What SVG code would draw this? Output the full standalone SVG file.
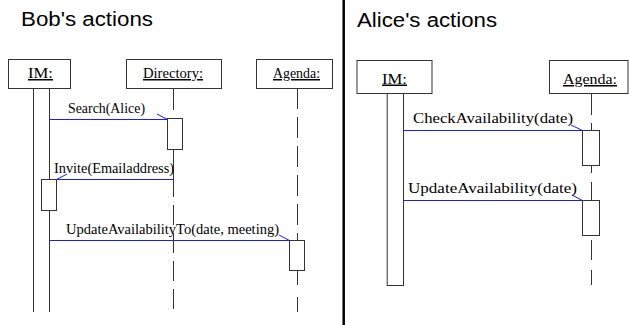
<svg xmlns="http://www.w3.org/2000/svg" width="629" height="325" viewBox="0 0 629 325">
<defs>
<style>
.box{fill:#fff;stroke:#333;stroke-width:1}
.ln{stroke:#333;stroke-width:1;fill:none}
.dash{stroke:#333;stroke-width:1;fill:none;stroke-dasharray:21 8}
.act{fill:#fff;stroke:#333;stroke-width:1}
.msg{stroke:#1a1aff;stroke-width:1;fill:none}
.tick{stroke:#1a1aff;stroke-width:1;fill:none}
.title{font-family:"Liberation Sans",Arial,sans-serif;font-size:20px;fill:#000}
.obj{font-family:"Liberation Serif","Times New Roman","DejaVu Serif",serif;font-size:15px;fill:#000;text-decoration:underline}
.lbl{font-family:"Liberation Serif","Times New Roman","DejaVu Serif",serif;font-size:14px;fill:#000}
</style>
</defs>
<rect x="0" y="0" width="629" height="325" fill="#fff"/>
<line x1="343.7" y1="0" x2="343.7" y2="325" stroke="#000" stroke-width="2.5"/>
<text class="title" x="21" y="26" textLength="132" lengthAdjust="spacingAndGlyphs">Bob's actions</text>
<text class="title" x="357" y="27" textLength="140" lengthAdjust="spacingAndGlyphs">Alice's actions</text>

<g id="bob-im">
<rect class="box" x="8.5" y="59.5" width="62" height="29"/>
<text class="obj" x="28" y="78" textLength="25" lengthAdjust="spacingAndGlyphs">IM:</text>
<line class="ln" x1="33.5" y1="88" x2="33.5" y2="312"/>
<line class="ln" x1="49.5" y1="88" x2="49.5" y2="312"/>
<rect class="act" x="41.5" y="179.5" width="15" height="31"/>
</g>

<g id="bob-directory">
<rect class="box" x="126.5" y="59.5" width="95" height="29"/>
<text class="obj" x="143" y="78" textLength="60" lengthAdjust="spacingAndGlyphs">Directory:</text>
<line class="ln" x1="173.5" y1="88" x2="173.5" y2="110"/>
<rect class="act" x="167.5" y="118.5" width="15" height="31"/>
<line class="ln" x1="173.5" y1="149.5" x2="173.5" y2="197"/>
<line class="dash" x1="173.5" y1="205" x2="173.5" y2="312" style="stroke-dasharray:20 8"/>
</g>

<g id="bob-agenda">
<rect class="box" x="256.5" y="59.5" width="76" height="29"/>
<text class="obj" x="273" y="78" textLength="47" lengthAdjust="spacingAndGlyphs">Agenda:</text>
<line class="dash" x1="297.5" y1="88" x2="297.5" y2="240"/>
<rect class="act" x="289.5" y="240.5" width="15" height="30"/>
<line class="ln" x1="297.5" y1="270.5" x2="297.5" y2="285"/>
<line class="ln" x1="297.5" y1="297" x2="297.5" y2="312"/>
</g>

<g id="alice-im">
<rect class="box" x="357" y="60.5" width="75" height="33"/>
<text class="obj" x="382" y="83.5" textLength="25" lengthAdjust="spacingAndGlyphs">IM:</text>
<rect class="act" x="387.2" y="93.5" width="16.3" height="192"/>
</g>

<g id="alice-agenda">
<rect class="box" x="549.5" y="60.5" width="78.5" height="33"/>
<text class="obj" x="563" y="84" textLength="54" lengthAdjust="spacingAndGlyphs">Agenda:</text>
<line class="ln" x1="591.5" y1="93.5" x2="591.5" y2="115"/>
<line class="ln" x1="591.5" y1="123" x2="591.5" y2="130"/>
<rect class="act" x="582.5" y="130.5" width="17" height="35"/>
<line class="ln" x1="591.5" y1="165.5" x2="591.5" y2="173"/>
<line class="ln" x1="591.5" y1="182" x2="591.5" y2="200"/>
<rect class="act" x="582.5" y="200.5" width="17" height="35"/>
<line class="ln" x1="591.5" y1="240" x2="591.5" y2="260"/>
<line class="ln" x1="591.5" y1="270" x2="591.5" y2="285"/>
</g>

<g id="connectors">
<line class="msg" x1="49.5" y1="119.5" x2="167.5" y2="119.5"/>
<line class="tick" x1="157" y1="114" x2="167.5" y2="119.5"/>
<text class="lbl" x="68" y="113" textLength="77" lengthAdjust="spacingAndGlyphs">Search(Alice)</text>

<line class="msg" x1="173.5" y1="179.5" x2="56.5" y2="179.5"/>
<line class="tick" x1="56.5" y1="179.5" x2="67" y2="174"/>
<text class="lbl" x="54" y="172.5" textLength="120" lengthAdjust="spacingAndGlyphs">Invite(Emailaddress)</text>

<line class="msg" x1="49.5" y1="240.5" x2="289.5" y2="240.5"/>
<line class="tick" x1="279" y1="235" x2="289.5" y2="240.5"/>
<text class="lbl" x="66" y="234" textLength="213" lengthAdjust="spacingAndGlyphs">UpdateAvailabilityTo(date, meeting)</text>

<line class="msg" x1="403.5" y1="130.5" x2="582.5" y2="130.5"/>
<line class="tick" x1="571" y1="125" x2="582.5" y2="130.5"/>
<text class="lbl" x="413" y="123" textLength="160" lengthAdjust="spacingAndGlyphs">CheckAvailability(date)</text>

<line class="msg" x1="403.5" y1="200.5" x2="582.5" y2="200.5"/>
<line class="tick" x1="572" y1="195" x2="582.5" y2="200.5"/>
<text class="lbl" x="408" y="192.5" textLength="169" lengthAdjust="spacingAndGlyphs">UpdateAvailability(date)</text>
</g>
</svg>
